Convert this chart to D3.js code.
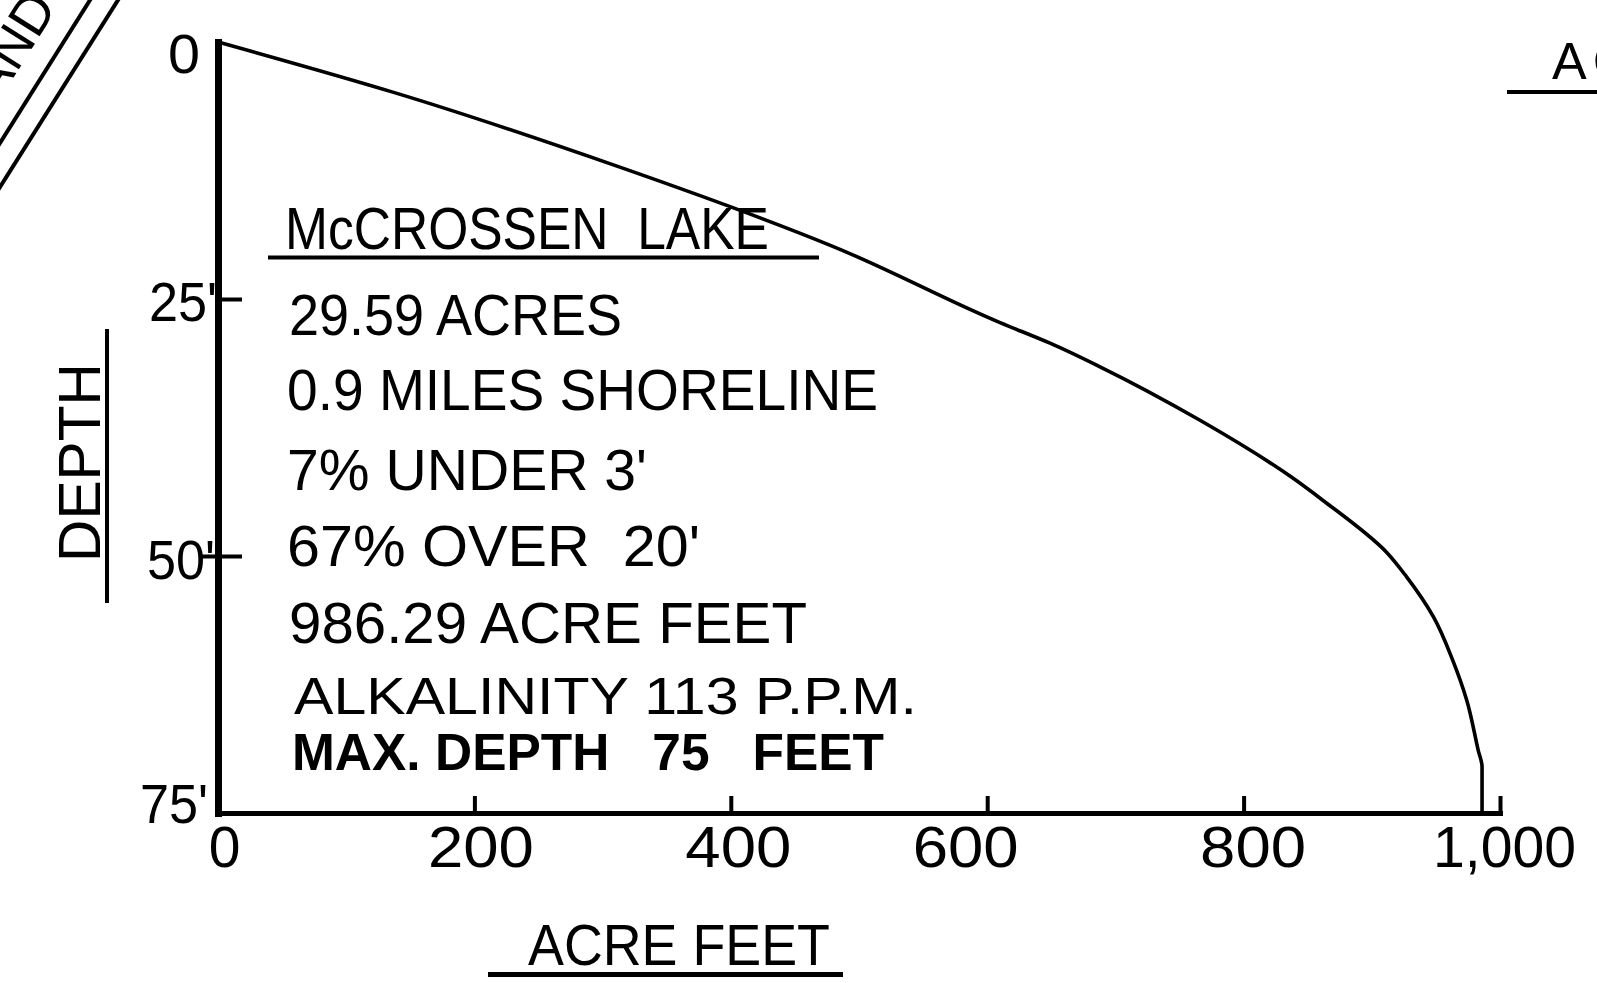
<!DOCTYPE html>
<html><head><meta charset="utf-8">
<script src="https://cdn.jsdelivr.net/npm/d3@7"></script>
<style>
html,body{margin:0;padding:0;background:#fff;overflow:hidden}
svg{display:block;background:#fff}
text{font-family:"Liberation Sans",Arial,Helvetica,sans-serif;fill:#000}
.pre{white-space:pre}
</style></head><body>
<svg id="chart" width="1597" height="983"></svg>
<script>
// ---- data ----
const acreFeet  = [0, 137, 314, 480, 610, 649, 688, 766, 837, 862, 912, 927, 948, 963, 974, 983, 986, 986];
const depthFeet = [0, 4.9, 12.2, 19.9, 27.3, 29.3, 31.6, 36.8, 42.3, 44.6, 49.7, 52.0, 55.9, 60.1, 64.0, 68.9, 70.5, 75];
const xTicks = [0, 200, 400, 600, 800, 1000];
const xTickLabels = ["0", "200", "400", "600", "800", "1,000"];
const yTicks = [0, 25, 50, 75];
const yTickLabels = ["0", "25'", "50'", "75'"];
const xTitle = "ACRE FEET";
const yTitle = "DEPTH";
const infoLines = ["McCROSSEN  LAKE", "29.59 ACRES", "0.9 MILES SHORELINE", "7% UNDER 3'",
                   "67% OVER  20'", "986.29 ACRE FEET", "ALKALINITY 113 P.P.M.", "MAX. DEPTH   75   FEET"];

// ---- layout ----
const svg = d3.select("#chart");
const x = d3.scaleLinear().domain([0, 1000]).range([218, 1500]);
const y = d3.scaleLinear().domain([0, 75]).range([42, 813]);

// top-left cut-off diagonal decoration
svg.append("line").attr("x1", 99.5).attr("y1", -15).attr("x2", -9.5).attr("y2", 158)
  .attr("stroke", "#000").attr("stroke-width", 4);
svg.append("line").attr("x1", 127.5).attr("y1", -15).attr("x2", -9.5).attr("y2", 202)
  .attr("stroke", "#000").attr("stroke-width", 4);
svg.append("text").text("AND")
  .attr("transform", "translate(58,7) rotate(-57.8)")
  .attr("text-anchor", "end").attr("font-size", 54);

// top-right cut-off heading
svg.append("text").text("AC").attr("x", 1552).attr("y", 79)
  .attr("font-size", 52).attr("letter-spacing", 6);
svg.append("line").attr("x1", 1507).attr("x2", 1600).attr("y1", 92).attr("y2", 92)
  .attr("stroke", "#000").attr("stroke-width", 4);

// x axis
const xNudge = {0: 6, 200: 6, 400: 7, 600: -22, 800: 9, 1000: 4};
const xAxis = d3.axisBottom(x).tickValues(xTicks).tickSizeInner(-17).tickSizeOuter(0)
  .tickFormat((d, i) => xTickLabels[i]);
const gx = svg.append("g").attr("transform", "translate(0,813)").call(xAxis);
gx.select(".domain").attr("stroke", "#000").attr("stroke-width", 5).attr("stroke-linecap", "square");
gx.selectAll(".tick line").attr("stroke", "#000").attr("stroke-width", 4);
gx.selectAll(".tick text")
  .attr("y", 54).attr("dy", 0).attr("x", d => xNudge[d])
  .attr("font-size", 57).attr("font-family", "'Liberation Sans',Arial,sans-serif")
  .attr("fill", "#000")
  .each(function(d, i) {
    const lab = xTickLabels[i];
    if (lab.length === 3) d3.select(this).attr("textLength", 106).attr("lengthAdjust", "spacingAndGlyphs");
    if (lab.length === 5) d3.select(this).attr("textLength", 143).attr("lengthAdjust", "spacingAndGlyphs");
  });

// y axis
const yNudge = {0: 30, 25: 21, 50: 22, 75: 9};
const yAnchor = {0: -18, 25: -1, 50: -3, 75: -10};
const yAxis = d3.axisLeft(y).tickValues(yTicks).tickSize(0).tickPadding(1)
  .tickFormat((d, i) => yTickLabels[i]);
const gy = svg.append("g").attr("transform", "translate(218,0)").call(yAxis);
gy.select(".domain").attr("stroke", "#000").attr("stroke-width", 7).attr("stroke-linecap", "square");
gy.selectAll(".tick text")
  .attr("dy", 0).attr("y", d => yNudge[d])
  .attr("x", d => yAnchor[d])
  .attr("font-size", 56).attr("font-family", "'Liberation Sans',Arial,sans-serif")
  .attr("fill", "#000")
  .each(function(d, i) {
    const lab = yTickLabels[i];
    d3.select(this).attr("textLength", lab.length === 1 ? 32 : 68).attr("lengthAdjust", "spacingAndGlyphs");
  });

// y tick marks (right side for 25 & 50, left side for 50)
const gyr = svg.append("g").attr("transform", "translate(218,0)")
  .call(d3.axisRight(y).tickValues([25, 50]).tickSize(24).tickFormat(""));
gyr.select(".domain").remove();
gyr.selectAll(".tick line").attr("stroke", "#000").attr("stroke-width", 4);
const gyl = svg.append("g").attr("transform", "translate(218,0)")
  .call(d3.axisLeft(y).tickValues([50]).tickSize(16).tickFormat(""));
gyl.select(".domain").remove();
gyl.selectAll(".tick line").attr("stroke", "#000").attr("stroke-width", 4);

// curve
const pts = acreFeet.map((v, i) => ({v: v, d: depthFeet[i]}));
svg.append("path").datum(pts)
  .attr("fill", "none").attr("stroke", "#000").attr("stroke-width", 3.6)
  .attr("stroke-linejoin", "round").attr("stroke-linecap", "round")
  .attr("d", d3.line().x(d => x(d.v)).y(d => y(d.d)).curve(d3.curveMonotoneY));

// axis titles
svg.append("text").text(xTitle).attr("x", 679).attr("y", 965)
  .attr("text-anchor", "middle").attr("font-size", 58)
  .attr("textLength", 302).attr("lengthAdjust", "spacingAndGlyphs");
svg.append("line").attr("x1", 488).attr("x2", 843).attr("y1", 974.5).attr("y2", 974.5)
  .attr("stroke", "#000").attr("stroke-width", 5);

svg.append("text").text(yTitle).attr("transform", "translate(100,462.5) rotate(-90)")
  .attr("text-anchor", "middle").attr("font-size", 60)
  .attr("textLength", 199).attr("lengthAdjust", "spacingAndGlyphs");
svg.append("line").attr("x1", 107).attr("x2", 107).attr("y1", 329).attr("y2", 603)
  .attr("stroke", "#000").attr("stroke-width", 4);

// info block
const infoLayout = [
  {x: 285, y: 249, w: 484, fs: 60, bold: false},
  {x: 289, y: 335, w: 333, fs: 58, bold: false},
  {x: 287, y: 409.5, w: 591, fs: 58, bold: false},
  {x: 287, y: 490, w: 360, fs: 58, bold: false},
  {x: 287, y: 566, w: 413, fs: 58, bold: false},
  {x: 289, y: 643, w: 518, fs: 58, bold: false},
  {x: 294, y: 714, w: 623, fs: 51, bold: false},
  {x: 292, y: 770, w: 592, fs: 51, bold: true}
];
svg.append("g").selectAll("text").data(infoLines).join("text")
  .attr("class", "pre")
  .text(d => d)
  .attr("x", (d, i) => infoLayout[i].x)
  .attr("y", (d, i) => infoLayout[i].y)
  .attr("font-size", (d, i) => infoLayout[i].fs)
  .attr("font-weight", (d, i) => infoLayout[i].bold ? "bold" : "normal")
  .attr("textLength", (d, i) => infoLayout[i].w)
  .attr("lengthAdjust", "spacingAndGlyphs");
svg.append("line").attr("x1", 268).attr("x2", 819).attr("y1", 257.5).attr("y2", 257.5)
  .attr("stroke", "#000").attr("stroke-width", 4);
</script>
</body></html>
